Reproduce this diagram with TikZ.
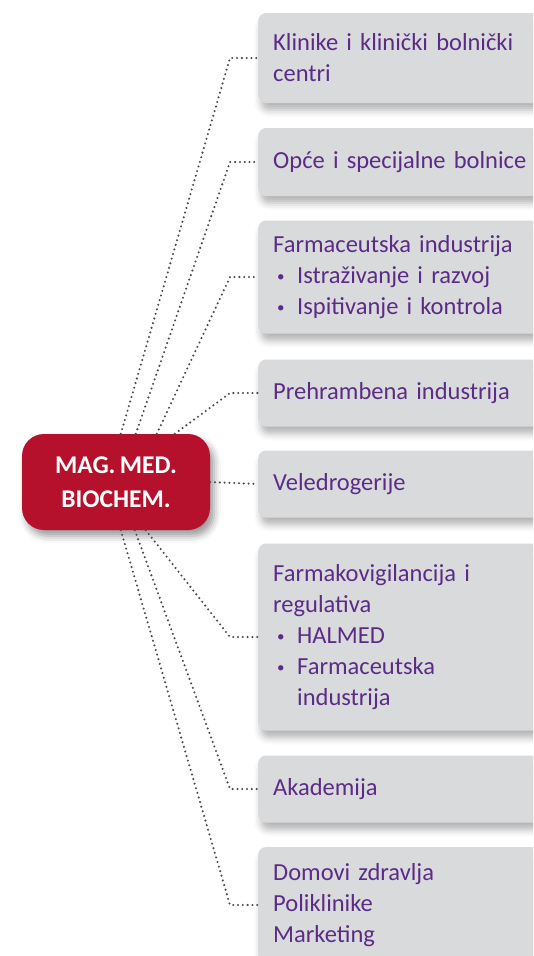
\documentclass[tikz,border=0pt]{standalone}
\usepackage{fontspec}
\setmainfont{Carlito}[WordSpace=0.75]
\usetikzlibrary{shadows.blur}
\definecolor{medred}{HTML}{B5112C}
\definecolor{boxgray}{HTML}{D9DADC}
\definecolor{textpurple}{HTML}{5B2C86}
\definecolor{linegray}{HTML}{4A4A4C}
\newcommand{\itm}{\makebox[24pt][l]{\hspace{4pt}\raisebox{1.5pt}{\fontsize{15}{15}\selectfont•}}}
\begin{document}
\begin{tikzpicture}[x=1pt,y=-1pt,
    field/.style={fill=boxgray, rounded corners=8pt, anchor=west, text width=255pt,
        inner xsep=15pt, align=left, text=textpurple, font=\fontsize{24.5}{31}\selectfont,
        blur shadow={shadow xshift=3pt, shadow yshift=-7pt, shadow blur radius=7pt, shadow opacity=30}},
    hub/.style={fill=medred, text=white, font=\bfseries\fontsize{25.5}{34}\selectfont, align=center,
        rounded corners=22pt, minimum width=188pt, minimum height=96pt,
        blur shadow={shadow xshift=4pt, shadow yshift=-6pt, shadow blur radius=7pt, shadow opacity=40}},
    link/.style={linegray, line width=2.3pt, dash pattern=on 0pt off 4.8pt, line cap=round}]
    \useasboundingbox (0,0) rectangle (533,956);
    \clip (0,0) rectangle (533,956);
    % centre
    \node[hub] (mag) at (116,482) {MAG. MED.\\BIOCHEM.};
    % boxes
    \node[field, minimum height=90pt] (k1) at (258,58) {Klinike i klinički bolnički\\centri};
    \node[field, minimum height=68pt] (k2) at (258,162) {Opće i specijalne bolnice};
    \node[field, minimum height=113pt] (k3) at (258,277) {Farmaceutska industrija\\\itm Istraživanje i razvoj\\\itm Ispitivanje i kontrola};
    \node[field, minimum height=67pt] (k4) at (258,393) {Prehrambena industrija};
    \node[field, minimum height=67pt] (k5) at (258,484) {Veledrogerije};
    \node[field, minimum height=187pt] (k6) at (258,637) {Farmakovigilancija i\\regulativa\\\itm HALMED\\\itm Farmaceutska\\\hspace*{24pt}industrija};
    \node[field, minimum height=67pt] (k7) at (258,789) {Akademija};
    \node[field, minimum height=116pt] (k8) at (258,905) {Domovi zdravlja\\Poliklinike\\Marketing};
    % connectors
    \draw[link] ([xshift=99pt]mag.north west) -- ([xshift=-28pt]k1.west) -- (k1.west);
    \draw[link] ([xshift=114pt]mag.north west) -- ([xshift=-28pt]k2.west) -- (k2.west);
    \draw[link] ([xshift=135pt]mag.north west) -- ([xshift=-28pt]k3.west) -- (k3.west);
    \draw[link] ([xshift=153pt]mag.north west) -- ([xshift=-28pt]k4.west) -- (k4.west);
    \draw[link] (mag.east) -- (k5.west);
    \draw[link] ([xshift=124pt]mag.south west) -- ([xshift=-28pt]k6.west) -- (k6.west);
    \draw[link] ([xshift=113pt]mag.south west) -- ([xshift=-28pt]k7.west) -- (k7.west);
    \draw[link] ([xshift=99pt]mag.south west) -- ([xshift=-28pt]k8.west) -- (k8.west);
\end{tikzpicture}
\end{document}
